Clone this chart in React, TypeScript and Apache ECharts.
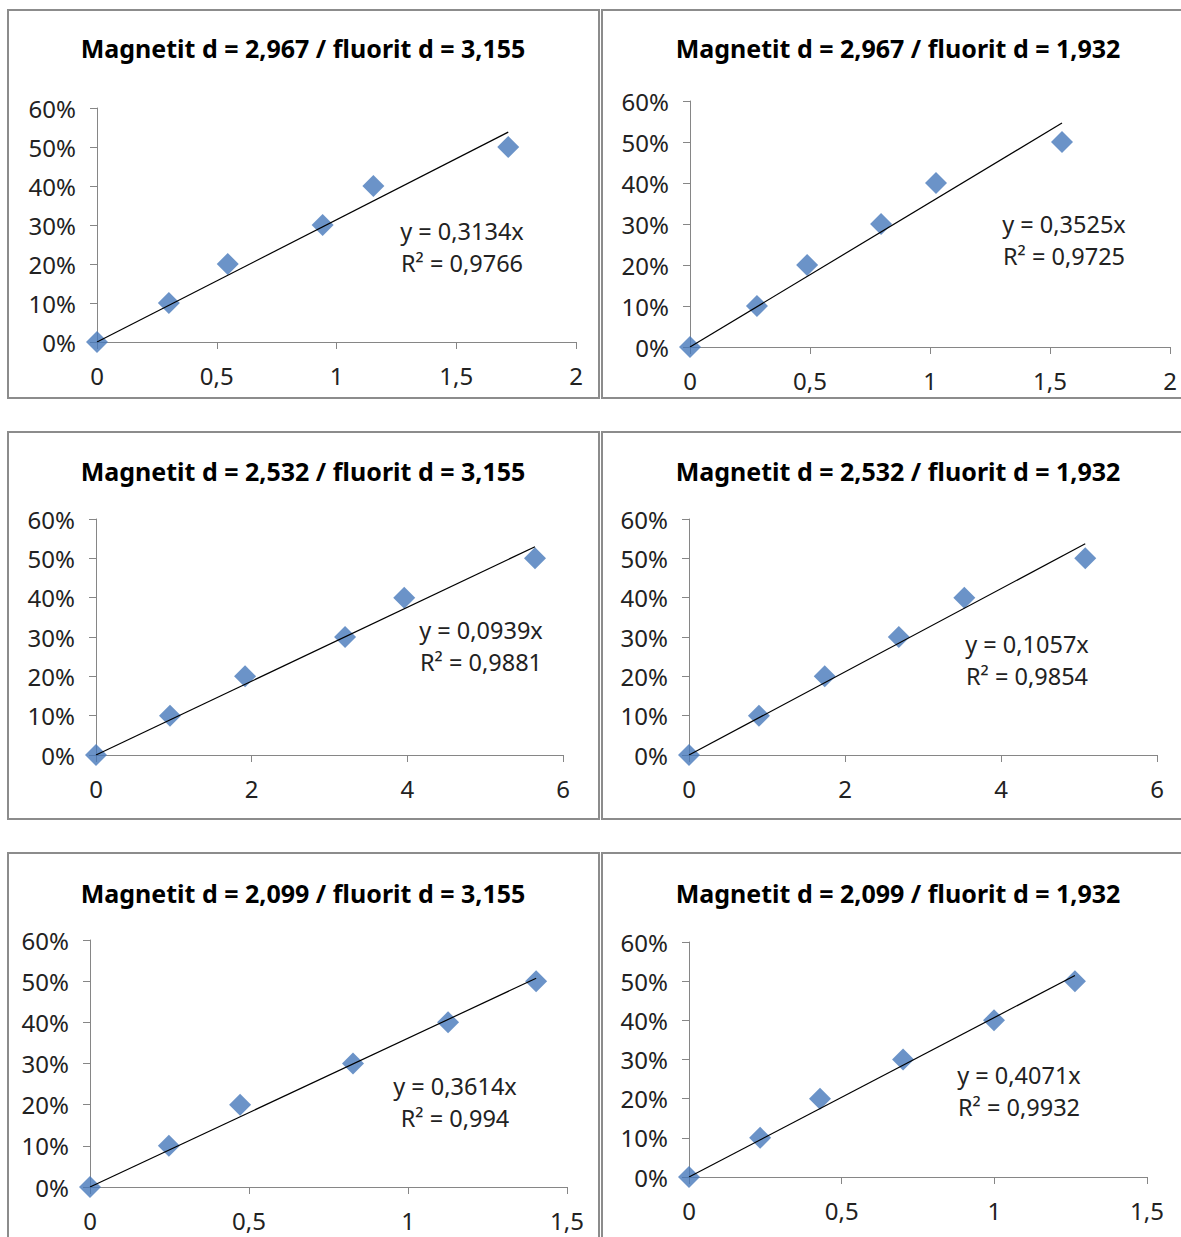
import React, { useEffect, useRef } from "react";
import * as echarts from "echarts";

const titles = [
  "Magnetit d = 2,967 / fluorit d = 3,155",
  "Magnetit d = 2,967 / fluorit d = 1,932",
  "Magnetit d = 2,532 / fluorit d = 3,155",
  "Magnetit d = 2,532 / fluorit d = 1,932",
  "Magnetit d = 2,099 / fluorit d = 3,155",
  "Magnetit d = 2,099 / fluorit d = 1,932",
];
const yValues = [0, 0.1, 0.2, 0.3, 0.4, 0.5];
const xValues1 = [0, 0.3, 0.546, 0.942, 1.154, 1.717];
const xValues2 = [0, 0.279, 0.488, 0.796, 1.025, 1.55];
const xValues3 = [0, 0.951, 1.915, 3.2, 3.96, 5.64];
const xValues4 = [0, 0.897, 1.74, 2.69, 3.53, 5.08];
const xValues5 = [0, 0.248, 0.472, 0.827, 1.126, 1.403];
const xValues6 = [0, 0.233, 0.429, 0.701, 0.999, 1.264];
const xValuesAll = [xValues1, xValues2, xValues3, xValues4, xValues5, xValues6];
const slopes = [0.3134, 0.3525, 0.0939, 0.1057, 0.3614, 0.4071];
const slopeLabels = ["0,3134", "0,3525", "0,0939", "0,1057", "0,3614", "0,4071"];
const r2Labels = ["0,9766", "0,9725", "0,9881", "0,9854", "0,994", "0,9932"];
const xMaxes = [2, 2, 6, 6, 1.5, 1.5];
const xIntervals = [0.5, 0.5, 2, 2, 0.5, 0.5];

// layout (pixels)
const grids = [
  { left: 97, top: 108, width: 479, height: 234 },
  { left: 690, top: 101, width: 480, height: 246 },
  { left: 96, top: 519, width: 467, height: 236 },
  { left: 689, top: 519, width: 468, height: 236 },
  { left: 90, top: 940, width: 477, height: 247 },
  { left: 689, top: 942, width: 458, height: 235 },
];
const titlePos = [
  { x: 298, y: 48 },
  { x: 893, y: 48 },
  { x: 298, y: 471 },
  { x: 893, y: 471 },
  { x: 298, y: 893 },
  { x: 893, y: 893 },
];
const eqPos = [
  { x: 462, y: 232 },
  { x: 1064, y: 225 },
  { x: 481, y: 631 },
  { x: 1027, y: 645 },
  { x: 455, y: 1087 },
  { x: 1019, y: 1076 },
];
const panels = [
  { x: 8, y: 10, w: 591, h: 388 },
  { x: 602, y: 10, w: 590, h: 388 },
  { x: 8, y: 432, w: 591, h: 387 },
  { x: 602, y: 432, w: 590, h: 387 },
  { x: 8, y: 853, w: 591, h: 400 },
  { x: 602, y: 853, w: 590, h: 400 },
];

const FONT = "'Noto Sans', 'Open Sans', sans-serif";
const AXIS_COLOR = "#868686";
const LABEL_COLOR = "#222";
const MARKER_COLOR = "#4678ba";

const fmtNum = (v: number) => String(v).replace(".", ",");

export default function App() {
  const ref = useRef<HTMLDivElement>(null);
  useEffect(() => {
    if (!ref.current) return;
    const chart = echarts.init(ref.current, undefined, { renderer: "svg" });
    const xAxis: any[] = [];
    const yAxis: any[] = [];
    const series: any[] = [];
    const graphic: any[] = [];
    const title: any[] = [];
    grids.forEach((g, i) => {
      xAxis.push({
        type: "value",
        gridIndex: i,
        min: 0,
        max: xMaxes[i],
        interval: xIntervals[i],
        axisLine: { show: true, onZero: false, lineStyle: { color: AXIS_COLOR, width: 1 } },
        axisTick: { show: true, inside: false, length: 7, lineStyle: { color: AXIS_COLOR } },
        splitLine: { show: false },
        axisLabel: {
          color: LABEL_COLOR,
          fontFamily: FONT,
          fontSize: 24,
          margin: 21,
          formatter: (v: number) => fmtNum(v),
        },
      });
      yAxis.push({
        type: "value",
        gridIndex: i,
        min: 0,
        max: 0.6,
        interval: 0.1,
        axisLine: { show: true, onZero: false, lineStyle: { color: AXIS_COLOR, width: 1 } },
        axisTick: { show: true, inside: false, length: 7, lineStyle: { color: AXIS_COLOR } },
        splitLine: { show: false },
        axisLabel: {
          color: LABEL_COLOR,
          fontFamily: FONT,
          fontSize: 24,
          margin: 21,
          formatter: (v: number) => Math.round(v * 100) + "%",
        },
      });
      const xs = xValuesAll[i];
      const xMaxData = Math.max(...xs);
      series.push({
        type: "line",
        xAxisIndex: i,
        yAxisIndex: i,
        data: [
          [0, 0],
          [xMaxData, slopes[i] * xMaxData],
        ],
        symbol: "none",
        lineStyle: { color: "#000", width: 1.2 },
        silent: true,
        z: 3,
      });
      series.push({
        type: "scatter",
        xAxisIndex: i,
        yAxisIndex: i,
        data: xs.map((x, k) => [x, yValues[k]]),
        symbol: "diamond",
        symbolSize: 22,
        itemStyle: { color: MARKER_COLOR },
        z: 2,
      });
      title.push({
        text: titles[i],
        left: titlePos[i].x,
        top: titlePos[i].y - 18,
        textAlign: "center",
        textStyle: { fontFamily: FONT, fontWeight: "bold", fontSize: 25, color: "#000" },
      });
      graphic.push({
        type: "rect",
        shape: { x: panels[i].x, y: panels[i].y, width: panels[i].w, height: panels[i].h },
        style: { fill: "none", stroke: "#8c8c8c", lineWidth: 2 },
        z: -1,
      });
      graphic.push({
        type: "text",
        x: eqPos[i].x,
        y: eqPos[i].y - 17,
        style: {
          text: "y = " + slopeLabels[i] + "x\nR² = " + r2Labels[i],
          align: "center",
          verticalAlign: "top",
          fontFamily: FONT,
          fontSize: 23.5,
          lineHeight: 32,
          fill: LABEL_COLOR,
        },
        z: 10,
      });
    });
    chart.setOption({
      animation: false,
      backgroundColor: "#fff",
      title,
      grid: grids.map((g) => ({ ...g, containLabel: false })),
      xAxis,
      yAxis,
      series,
      graphic,
    });
    return () => chart.dispose();
  }, []);
  return (
    <div
      ref={ref}
      style={{ position: "fixed", left: 0, top: 0, width: 1181, height: 1237, background: "#fff" }}
    />
  );
}
